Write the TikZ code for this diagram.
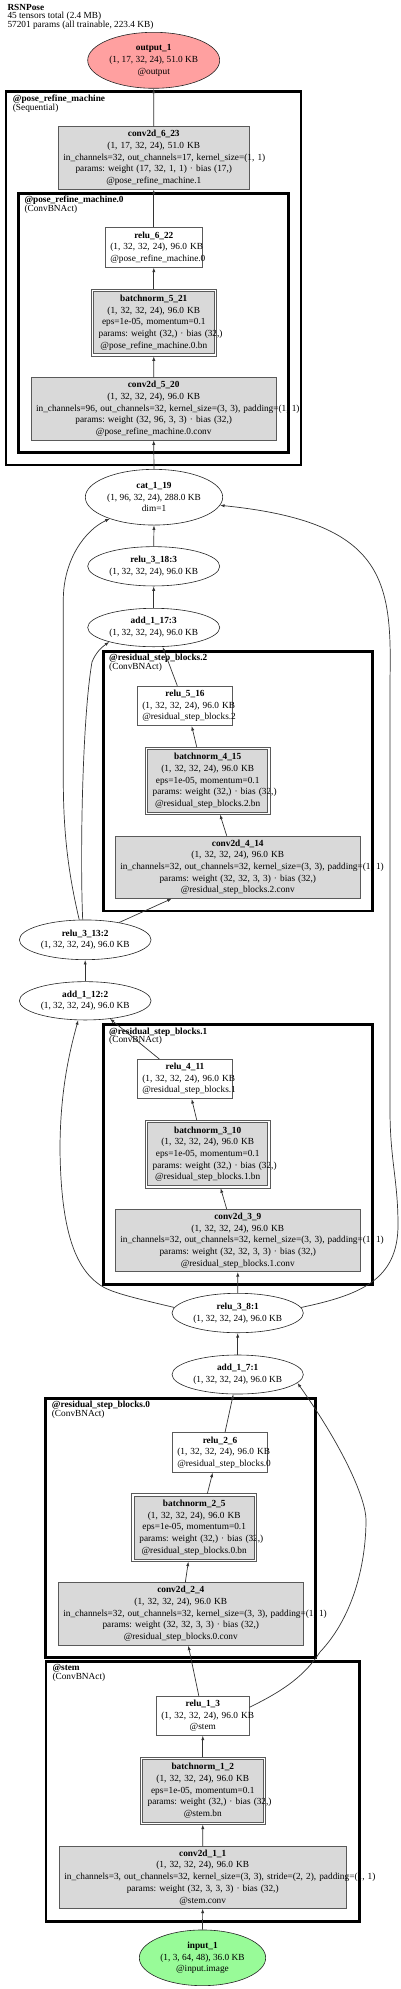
\documentclass[tikz,border=0pt]{standalone}
\usepackage{fontspec}
\setmainfont{Liberation Serif}
\usetikzlibrary{shapes.geometric,arrows.meta}
\definecolor{fillgray}{HTML}{D9D9D9}
\definecolor{boxgray}{HTML}{5A5A5A}
\definecolor{edgegray}{HTML}{333333}
\definecolor{outred}{HTML}{FFA0A0}
\definecolor{ingreen}{HTML}{98FB98}
\frenchspacing
\begin{document}
\begin{tikzpicture}[x=1pt,y=-1pt,
  every node/.style={font=\fontsize{9.3}{11.7}\selectfont},
  sz/.style n args={3}{minimum width=#1pt, minimum height=#2pt, text width=#3pt},
  convbox/.style={rectangle, draw=boxgray, fill=fillgray, line width=0.6pt, inner xsep=5pt, inner ysep=0pt, align=center},
  relubox/.style={rectangle, draw=boxgray, fill=white, line width=0.6pt, inner xsep=5pt, inner ysep=0pt, align=center},
  bnbox/.style={rectangle, draw=boxgray, fill=fillgray, line width=0.6pt, inner xsep=5pt, inner ysep=0pt, align=center},
  bnouter/.style={draw=boxgray, line width=0.6pt},
  ell/.style={ellipse, draw=black!85, line width=0.6pt, inner sep=0pt, align=center},
  cluster/.style={draw=black, line width=2.6pt},
  clab/.style={anchor=base west, inner sep=0pt},
  edge/.style={draw=edgegray, line width=0.7pt, -{Latex[length=4.5pt,width=3.2pt]}},
  tobn/.style={shorten >=2.3pt},
  frombn/.style={shorten <=2.3pt}
]
\useasboundingbox (0,0) rectangle (400,1989);

% header
\node[clab] (h1) at (7.3,10.1) {\textbf{RSNPose}};
\node[clab] (h2) at (7.3,18.8) {45 tensors total (2.4 MB)};
\node[clab] (h3) at (7.3,27.5) {57201 params (all trainable, 223.4 KB)};

% clusters
\draw[cluster] (6,91.7) rectangle (301,465);
\node[clab] (l1a) at (12.7,101.8) {\textbf{@pose\_refine\_machine}};
\node[clab] (l1b) at (12.7,110.2) {(Sequential)};
\draw[cluster] (18.7,193.3) rectangle (288.7,452.7);
\node[clab] (l2a) at (24.3,202.5) {\textbf{@pose\_refine\_machine.0}};
\node[clab] (l2b) at (24.3,211.1) {(ConvBNAct)};
\draw[cluster] (103.3,651.7) rectangle (372.7,911);
\node[clab] (l3a) at (109,660.8) {\textbf{@residual\_step\_blocks.2}};
\node[clab] (l3b) at (109,669.3) {(ConvBNAct)};
\draw[cluster] (103.3,1024.3) rectangle (372.7,1284.3);
\node[clab] (l4a) at (109,1034.1) {\textbf{@residual\_step\_blocks.1}};
\node[clab] (l4b) at (109,1042.8) {(ConvBNAct)};
\draw[cluster] (45.3,1398.3) rectangle (315.7,1657.3);
\node[clab] (l5a) at (51.7,1407.5) {\textbf{@residual\_step\_blocks.0}};
\node[clab] (l5b) at (51.7,1416.1) {(ConvBNAct)};
\draw[cluster] (46,1661.7) rectangle (359.3,1921.7);
\node[clab] (l6a) at (52.3,1670.8) {\textbf{@stem}};
\node[clab] (l6b) at (52.3,1679.5) {(ConvBNAct)};

% nodes
\node[ell, fill=outred, minimum width=132pt, minimum height=56pt] (output1) at (153.7,60.3)
  {\textbf{output\_1}\\(1, 17, 32, 24), 51.0 KB\\@output};
\node[convbox, sz={191}{62.6}{181}] (conv623) at (153.8,158)
  {\mbox{\textbf{conv2d\_6\_23}}\\\mbox{(1, 17, 32, 24), 51.0 KB}\\\mbox{in\_channels=32, out\_channels=17, kernel\_size=(1, 1)}\\\mbox{params: weight (17, 32, 1, 1) · bias (17,)}\\\mbox{@pose\_refine\_machine.1}};
\node[relubox, sz={97}{39.6}{87}] (relu622) at (153.8,247.5)
  {\mbox{\textbf{relu\_6\_22}}\\\mbox{(1, 32, 32, 24), 96.0 KB}\\\mbox{@pose\_refine\_machine.0}};
\node[bnbox, sz={120.4}{62.1}{110.4}] (bn521) at (153.8,322.7)
  {\mbox{\textbf{batchnorm\_5\_21}}\\\mbox{(1, 32, 32, 24), 96.0 KB}\\\mbox{eps=1e-05, momentum=0.1}\\\mbox{params: weight (32,) · bias (32,)}\\\mbox{@pose\_refine\_machine.0.bn}};
\node[convbox, sz={245.3}{62.3}{235.3}] (conv520) at (153.7,408.9)
  {\mbox{\textbf{conv2d\_5\_20}}\\\mbox{(1, 32, 32, 24), 96.0 KB}\\\mbox{in\_channels=96, out\_channels=32, kernel\_size=(3, 3), padding=(1, 1)}\\\mbox{params: weight (32, 96, 3, 3) · bias (32,)}\\\mbox{@pose\_refine\_machine.0.conv}};
\node[ell, fill=white, minimum width=137.4pt, minimum height=55.7pt] (cat119) at (154,497.2)
  {\textbf{cat\_1\_19}\\(1, 96, 32, 24), 288.0 KB\\dim=1};
\node[ell, fill=white, minimum width=132pt, minimum height=39.3pt] (relu318) at (153.7,566.3)
  {\textbf{relu\_3\_18:3}\\(1, 32, 32, 24), 96.0 KB};
\node[ell, fill=white, minimum width=132pt, minimum height=38.4pt] (add117) at (153.7,627.5)
  {\textbf{add\_1\_17:3}\\(1, 32, 32, 24), 96.0 KB};
\node[relubox, sz={95.4}{39.7}{85.4}] (relu516) at (185,705.9)
  {\mbox{\textbf{relu\_5\_16}}\\\mbox{(1, 32, 32, 24), 96.0 KB}\\\mbox{@residual\_step\_blocks.2}};
\node[bnbox, sz={120.1}{62.4}{110.1}] (bn415) at (207.7,780.8)
  {\mbox{\textbf{batchnorm\_4\_15}}\\\mbox{(1, 32, 32, 24), 96.0 KB}\\\mbox{eps=1e-05, momentum=0.1}\\\mbox{params: weight (32,) · bias (32,)}\\\mbox{@residual\_step\_blocks.2.bn}};
\node[convbox, sz={245}{62.3}{235}] (conv414) at (237.8,867.2)
  {\mbox{\textbf{conv2d\_4\_14}}\\\mbox{(1, 32, 32, 24), 96.0 KB}\\\mbox{in\_channels=32, out\_channels=32, kernel\_size=(3, 3), padding=(1, 1)}\\\mbox{params: weight (32, 32, 3, 3) · bias (32,)}\\\mbox{@residual\_step\_blocks.2.conv}};
\node[ell, fill=white, minimum width=131.7pt, minimum height=39.7pt] (relu313) at (85.2,939.8)
  {\textbf{relu\_3\_13:2}\\(1, 32, 32, 24), 96.0 KB};
\node[ell, fill=white, minimum width=131.7pt, minimum height=38.3pt] (add112) at (85.2,1000.8)
  {\textbf{add\_1\_12:2}\\(1, 32, 32, 24), 96.0 KB};
\node[relubox, sz={95.4}{39.4}{85.4}] (relu411) at (185,1079)
  {\mbox{\textbf{relu\_4\_11}}\\\mbox{(1, 32, 32, 24), 96.0 KB}\\\mbox{@residual\_step\_blocks.1}};
\node[bnbox, sz={120.1}{63.1}{110.1}] (bn310) at (207.7,1154.2)
  {\mbox{\textbf{batchnorm\_3\_10}}\\\mbox{(1, 32, 32, 24), 96.0 KB}\\\mbox{eps=1e-05, momentum=0.1}\\\mbox{params: weight (32,) · bias (32,)}\\\mbox{@residual\_step\_blocks.1.bn}};
\node[convbox, sz={245}{62.4}{235}] (conv39) at (237.8,1240.5)
  {\mbox{\textbf{conv2d\_3\_9}}\\\mbox{(1, 32, 32, 24), 96.0 KB}\\\mbox{in\_channels=32, out\_channels=32, kernel\_size=(3, 3), padding=(1, 1)}\\\mbox{params: weight (32, 32, 3, 3) · bias (32,)}\\\mbox{@residual\_step\_blocks.1.conv}};
\node[ell, fill=white, minimum width=131.3pt, minimum height=39.4pt] (relu38) at (237.7,1313)
  {\textbf{relu\_3\_8:1}\\(1, 32, 32, 24), 96.0 KB};
\node[ell, fill=white, minimum width=131.3pt, minimum height=39pt] (add17) at (237.7,1374.5)
  {\textbf{add\_1\_7:1}\\(1, 32, 32, 24), 96.0 KB};
\node[relubox, sz={95.4}{39.6}{85.4}] (relu26) at (220,1452.5)
  {\mbox{\textbf{relu\_2\_6}}\\\mbox{(1, 32, 32, 24), 96.0 KB}\\\mbox{@residual\_step\_blocks.0}};
\node[bnbox, sz={119.7}{62.7}{109.7}] (bn25) at (194.2,1527.7)
  {\mbox{\textbf{batchnorm\_2\_5}}\\\mbox{(1, 32, 32, 24), 96.0 KB}\\\mbox{eps=1e-05, momentum=0.1}\\\mbox{params: weight (32,) · bias (32,)}\\\mbox{@residual\_step\_blocks.0.bn}};
\node[convbox, sz={245}{62.6}{235}] (conv24) at (180.8,1614)
  {\mbox{\textbf{conv2d\_2\_4}}\\\mbox{(1, 32, 32, 24), 96.0 KB}\\\mbox{in\_channels=32, out\_channels=32, kernel\_size=(3, 3), padding=(1, 1)}\\\mbox{params: weight (32, 32, 3, 3) · bias (32,)}\\\mbox{@residual\_step\_blocks.0.conv}};
\node[relubox, sz={93}{39.3}{83}] (relu13) at (202.8,1715.7)
  {\mbox{\textbf{relu\_1\_3}}\\\mbox{(1, 32, 32, 24), 96.0 KB}\\\mbox{@stem}};
\node[bnbox, sz={120.4}{62.4}{110.4}] (bn12) at (202.8,1790.8)
  {\mbox{\textbf{batchnorm\_1\_2}}\\\mbox{(1, 32, 32, 24), 96.0 KB}\\\mbox{eps=1e-05, momentum=0.1}\\\mbox{params: weight (32,) · bias (32,)}\\\mbox{@stem.bn}};
\node[convbox, sz={286.7}{62}{276.7}] (conv11) at (202.7,1877.3)
  {\mbox{\textbf{conv2d\_1\_1}}\\\mbox{(1, 32, 32, 24), 96.0 KB}\\\mbox{in\_channels=3, out\_channels=32, kernel\_size=(3, 3), stride=(2, 2), padding=(1, 1)}\\\mbox{params: weight (32, 3, 3, 3) · bias (32,)}\\\mbox{@stem.conv}};
\node[ell, fill=ingreen, minimum width=126.4pt, minimum height=55.7pt] (input1) at (202.5,1957.8)
  {\textbf{input\_1}\\(1, 3, 64, 48), 36.0 KB\\@input.image};

% outer lines of the batchnorm boxes
\foreach \b in {bn521,bn415,bn310,bn25,bn12}
  \draw[bnouter] ([shift={(-2.3pt,2.3pt)}]\b.north west) rectangle ([shift={(2.3pt,-2.3pt)}]\b.south east);

% edges
\draw[edge] (input1.north) -- (conv11.south);
\draw[edge,tobn] (conv11.north) -- (bn12.south);
\draw[edge,frombn] (bn12.north) -- (relu13.south);
\draw[edge] ([xshift=-4pt]relu13.north) -- ([xshift=7.5pt]conv24.south);
\draw[edge,tobn] ([xshift=4.5pt]conv24.north) -- ([xshift=-5.5pt]bn25.south);
\draw[edge,frombn] ([xshift=12.5pt]bn25.north) -- ([xshift=-7.3pt]relu26.south);
\draw[edge] ([xshift=5pt]relu26.north) -- ([xshift=-4.4pt]add17.south);
\draw[edge] ([yshift=8.5pt]relu13.east) .. controls (285,1690) and (305,1675) .. (320,1652)
  .. controls (355,1615) and (366,1560) .. (366,1520)
  .. controls (366,1500) and (345,1450) .. (add17.-8);
\draw[edge] (add17.north) -- (relu38.south);
\draw[edge] (relu38.north) -- (conv39.south);
\draw[edge,tobn] ([xshift=-11.1pt]conv39.north) -- ([xshift=12.3pt]bn310.south);
\draw[edge,frombn] ([xshift=-10.4pt]bn310.north) -- ([xshift=6.7pt]relu411.south);
\draw[edge] ([xshift=-25.7pt]relu411.north) -- (add112.-36);
\draw[edge] (relu38.175) .. controls (130,1297) and (110,1292) .. (100,1285)
  .. controls (75,1268) and (61,1230) .. (60,1150)
  .. controls (60,1090) and (70,1050) .. (add112.250);
\draw[edge] (relu38.5) .. controls (360,1295) and (398,1280) .. (398,1225)
  .. controls (398,1180) and (390,1160) .. (390,1110)
  -- (390,680) .. controls (392,580) and (385,522) .. (cat119.-7);
\draw[edge] (add112.north) -- (relu313.south);
\draw[edge] (relu313.27) -- ([xshift=-66.1pt]conv414.south);
\draw[edge,tobn] ([xshift=-11.1pt]conv414.north) -- ([xshift=11.6pt]bn415.south);
\draw[edge,frombn] ([xshift=-10.4pt]bn415.north) -- ([xshift=6.7pt]relu516.south);
\draw[edge] ([xshift=-7.7pt]relu516.north) -- ([xshift=9pt]add117.south);
\draw[edge] ([xshift=-2.5pt]relu313.north) .. controls (80,860) and (82,720) .. (92,662)
  .. controls (96,652) and (102,647) .. (add117.198);
\draw[edge] ([xshift=-6pt]relu313.north) .. controls (70,880) and (63.3,840) .. (63.3,780)
  -- (63.3,600) .. controls (63.3,560) and (85,530) .. (cat119.206);
\draw[edge] (add117.north) -- (relu318.south);
\draw[edge] (relu318.north) -- (cat119.south);
\draw[edge] (cat119.north) -- (conv520.south);
\draw[edge,tobn] (conv520.north) -- (bn521.south);
\draw[edge,frombn] (bn521.north) -- (relu622.south);
\draw[edge] (relu622.north) -- (conv623.south);
\draw[edge] (conv623.north) -- (output1.south);
\end{tikzpicture}
\end{document}
